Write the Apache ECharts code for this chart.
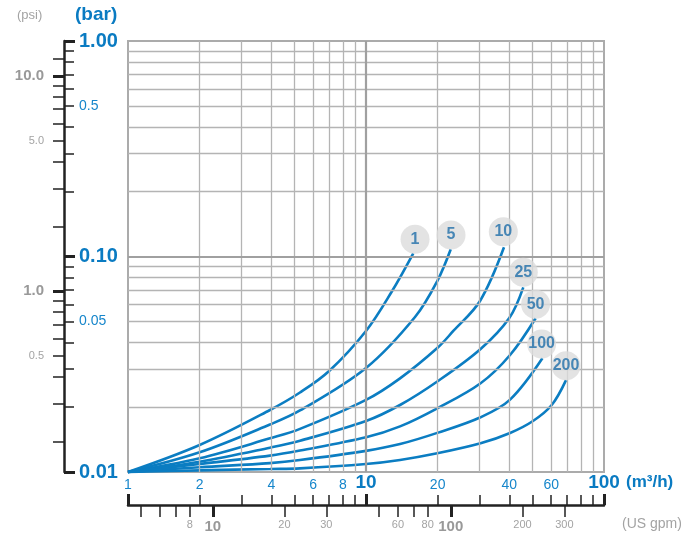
<!DOCTYPE html>
<html><head><meta charset="utf-8">
<script src="https://cdn.jsdelivr.net/npm/echarts@6/dist/echarts.min.js"></script>
<style>html,body{margin:0;padding:0;background:#fff}#c{width:685px;height:535px}</style>
</head><body><div id="c"></div>
<script>
// ---- data (flow m3/h, pressure drop bar) ----
const curveNames = ['1', '5', '10', '25', '50', '100', '200'];
const curve1 = [[1,0.01],[2.0,0.01335],[3.95,0.0194],[5.28,0.02338],[7.0,0.02942],[10,0.04512],[12.8,0.06843],[15.8,0.1035]];
const curve5 = [[1,0.01],[2.0,0.01234],[3.95,0.01661],[5.28,0.0193],[10,0.03038],[16.07,0.05239],[19.93,0.07695],[22.7,0.108]];
const curve10 = [[1,0.01],[2.0,0.01158],[3.95,0.01433],[5.28,0.01585],[10,0.0216],[13.9,0.0272],[19.93,0.0376],[23.27,0.04512],[30.13,0.06217],[38.0,0.1103]];
const curve25 = [[1,0.01],[2.0,0.01116],[3.95,0.01297],[5.28,0.01397],[10,0.01724],[13.9,0.02046],[19.93,0.0263],[30.3,0.03722],[40.0,0.0518],[45.8,0.0719]];
const curve50 = [[1,0.01],[2.0,0.01089],[3.95,0.01191],[5.28,0.01258],[10,0.01449],[13.9,0.01628],[19.93,0.01975],[30.3,0.0258],[40.3,0.0349],[51.6,0.0517]];
const curve100 = [[1,0.01],[2.0,0.01052],[3.95,0.011],[5.28,0.01136],[10,0.01253],[13.9,0.01348],[19.93,0.01519],[30.3,0.01795],[40.3,0.02166],[55.1,0.0337]];
const curve200 = [[1,0.01],[2.0,0.01018],[3.95,0.01033],[5.28,0.0104],[10,0.01089],[13.9,0.01137],[19.93,0.01221],[30.3,0.01359],[40.3,0.01517],[50.3,0.01724],[60.3,0.02046],[69.25,0.0267]];
const curves = [curve1, curve5, curve10, curve25, curve50, curve100, curve200];
const labelX = [16.07, 22.76, 37.75, 45.8, 51.6, 54.7, 69.25];
const labelY = [0.1202, 0.1258, 0.1303, 0.0845, 0.0600, 0.0393, 0.0311];

// ---- ticks ----
const flowMinorTicks = [2,3,4,5,6,7,8,9,20,30,40,50,60,70,80,90];
const flowMajorTicks = [1,10,100];
const flowLabels = [1,2,4,6,8,10,20,40,60,100];
const flowLabelTexts = ['1','2','4','6','8','10','20','40','60','100'];
const flowBold = [false,false,false,false,false,true,false,false,false,true];
const gpmMinorTicks = [5,6,7,8,20,30,50,60,70,80,200,300];
const gpmMajorTicks = [10,100];
const gpmLabels = [8,10,20,30,60,80,100,200,300];
const gpmLabelTexts = ['8','10','20','30','60','80','100','200','300'];
const gpmBold = [false,true,false,false,false,false,true,false,false];
const barMinorTicks = [0.02,0.03,0.04,0.05,0.06,0.07,0.08,0.09,0.2,0.3,0.4,0.5,0.6,0.7,0.8,0.9];
const barMajorTicks = [0.01,0.1,1];
const barLabels = [0.01,0.05,0.1,0.5,1];
const barLabelTexts = ['0.01','0.05','0.10','0.5','1.00'];
const barBold = [true,false,true,false,true];
const psiMinorTicks = [0.2,0.3,0.4,0.5,0.6,0.7,0.8,0.9,2,3,4,5,6,7,8,9,12];
const psiMajorTicks = [1,10];
const psiLabels = [0.5,1,5,10];
const psiLabelTexts = ['0.5','1.0','5.0','10.0'];
const psiBold = [false,true,false,true];
const gridMinorX = [2,3,4,5,6,7,8,9,20,30,40,50,60,70,80,90];
const gridMinorY = [0.02,0.03,0.04,0.05,0.06,0.07,0.08,0.09,0.2,0.3,0.4,0.5,0.6,0.7,0.8,0.9];
const gridMajorX = [10];
const gridMajorY = [0.1];

const M3H_TO_GPM = 4.402868;
const BAR_TO_PSI = 14.5038;

const FONT = '"Liberation Sans", Arial, Helvetica, sans-serif';
const BLUE = '#1686cb';
const BLUE_B = '#0a7bc2';
const GRAY = '#a3a3a3';
const GRAY_B = '#999999';
const LINE = '#0b7dc2';
const AX = '#222222';

function fmt(vals, texts, bold) {
  return function (v) {
    for (let i = 0; i < vals.length; i++) {
      if (Math.abs(Math.log10(v) - Math.log10(vals[i])) < 1e-4) {
        return bold[i] ? '{b|' + texts[i] + '}' : '{n|' + texts[i] + '}';
      }
    }
    return '';
  };
}

const chart = echarts.init(document.getElementById('c'), null, {renderer: 'canvas'});

const hidden = {axisLine:{show:false}, axisTick:{show:false}, axisLabel:{show:false}, splitLine:{show:false}};

const xAxes = [
  Object.assign({type:'log', logBase:10, min:1, max:100, gridIndex:0}, hidden),
  {type:'log', logBase:10, min:1, max:100, position:'bottom', offset:33,
   axisLine:{show:true, lineStyle:{color:AX, width:2.5}},
   axisTick:{show:true, inside:true, length:10, customValues: flowMinorTicks, lineStyle:{color:AX, width:1.5}},
   axisLabel:{show:true, inside:true, margin:13, customValues: flowLabels, formatter: fmt(flowLabels, flowLabelTexts, flowBold),
     rich:{n:{fontFamily:FONT, fontSize:14, color:BLUE}, b:{fontFamily:FONT, fontSize:19, fontWeight:'bold', color:BLUE_B}}},
   splitLine:{show:false}},
  {type:'log', logBase:10, min:1, max:100, position:'bottom', offset:33,
   axisLine:{show:false},
   axisTick:{show:true, inside:true, length:11, customValues: flowMajorTicks, lineStyle:{color:AX, width:3}},
   axisLabel:{show:false}, splitLine:{show:false}},
  {type:'log', logBase:10, min:M3H_TO_GPM, max:100*M3H_TO_GPM, position:'bottom', offset:33,
   axisLine:{show:false},
   axisTick:{show:true, inside:false, length:12, customValues: gpmMinorTicks, lineStyle:{color:AX, width:1.5}},
   axisLabel:{show:true, inside:false, margin:14, customValues: gpmLabels, formatter: fmt(gpmLabels, gpmLabelTexts, gpmBold),
     rich:{n:{fontFamily:FONT, fontSize:11, color:GRAY}, b:{fontFamily:FONT, fontSize:15, fontWeight:'bold', color:GRAY_B}}},
   splitLine:{show:false}},
  {type:'log', logBase:10, min:M3H_TO_GPM, max:100*M3H_TO_GPM, position:'bottom', offset:33,
   axisLine:{show:false},
   axisTick:{show:true, inside:false, length:12, customValues: gpmMajorTicks, lineStyle:{color:AX, width:3}},
   axisLabel:{show:false}, splitLine:{show:false}}
];

const yAxes = [
  Object.assign({type:'log', logBase:10, min:0.01, max:1}, hidden),
  {type:'log', logBase:10, min:0.01, max:1, position:'left', offset:64,
   axisLine:{show:true, lineStyle:{color:AX, width:2.5}},
   axisTick:{show:true, inside:true, length:10, customValues: barMinorTicks, lineStyle:{color:AX, width:1.5}},
   axisLabel:{show:true, inside:true, margin:15, customValues: barLabels, formatter: fmt(barLabels, barLabelTexts, barBold),
     rich:{n:{fontFamily:FONT, fontSize:14, color:BLUE}, b:{fontFamily:FONT, fontSize:20, fontWeight:'bold', color:BLUE_B}}},
   splitLine:{show:false}},
  {type:'log', logBase:10, min:0.01, max:1, position:'left', offset:64,
   axisLine:{show:false},
   axisTick:{show:true, inside:true, length:11, customValues: barMajorTicks, lineStyle:{color:AX, width:3}},
   axisLabel:{show:false}, splitLine:{show:false}},
  {type:'log', logBase:10, min:0.01*BAR_TO_PSI, max:BAR_TO_PSI, position:'left', offset:64,
   axisLine:{show:false},
   axisTick:{show:true, inside:false, length:11, customValues: psiMinorTicks, lineStyle:{color:AX, width:1.5}},
   axisLabel:{show:true, inside:false, margin:20, customValues: psiLabels, formatter: fmt(psiLabels, psiLabelTexts, psiBold),
     rich:{n:{fontFamily:FONT, fontSize:11, color:GRAY}, b:{fontFamily:FONT, fontSize:15, fontWeight:'bold', color:GRAY_B}}},
   splitLine:{show:false}},
  {type:'log', logBase:10, min:0.01*BAR_TO_PSI, max:BAR_TO_PSI, position:'left', offset:64,
   axisLine:{show:false},
   axisTick:{show:true, inside:false, length:11, customValues: psiMajorTicks, lineStyle:{color:AX, width:3}},
   axisLabel:{show:false}, splitLine:{show:false}}
];

const gridLineData = []
  .concat(gridMinorX.map(v => ({xAxis: v, lineStyle:{color:'#b4b4b4', width:1.3, type:'solid'}})))
  .concat(gridMinorY.map(v => ({yAxis: v, lineStyle:{color:'#b4b4b4', width:1.3, type:'solid'}})))
  .concat(gridMajorX.map(v => ({xAxis: v, lineStyle:{color:'#a0a0a0', width:2.2, type:'solid'}})))
  .concat(gridMajorY.map(v => ({yAxis: v, lineStyle:{color:'#a0a0a0', width:2.2, type:'solid'}})));

const series = [
  {type:'line', name:'grid', data:[], silent:true, z:1,
   markLine:{silent:true, symbol:['none','none'], label:{show:false}, animation:false, data: gridLineData}}
];
curves.forEach((c, i) => {
  series.push({type:'line', name: curveNames[i], data: c, showSymbol:false, smooth:0.35,
    lineStyle:{color:LINE, width:2.6}, z:3, animation:false, clip:false});
});
series.push({type:'scatter', name:'labels', data: labelX.map((x, i) => ({value:[x, labelY[i]], name: curveNames[i]})),
  symbol:'circle', symbolSize:29, itemStyle:{color:'#dcdcdc'}, z:5, animation:false,
  label:{show:true, position:'inside', formatter: p => p.name, fontFamily:FONT, fontSize:16, fontWeight:'bold', color:'#1f6ea9'}});

const option = {
  animation:false,
  backgroundColor:'#ffffff',
  grid:{left:128, right:81, top:41, bottom:63, show:true, borderColor:'#ababab', borderWidth:2, backgroundColor:'transparent', outerBoundsMode:'none'},
  xAxis: xAxes,
  yAxis: yAxes,
  series: series,
  graphic:[
    {type:'text', left:17, top:9, style:{text:'(psi)', font:'13px ' + FONT, fill:GRAY}},
    {type:'text', left:75, top:5, style:{text:'(bar)', font:'bold 19px ' + FONT, fill:BLUE_B}},
    {type:'text', left:626, top:474, style:{text:'(m³/h)', font:'bold 17px ' + FONT, fill:BLUE_B}},
    {type:'text', left:622, top:517, style:{text:'(US gpm)', font:'14px ' + FONT, fill:GRAY}}
  ]
};
chart.setOption(option);
</script>
</body></html>
